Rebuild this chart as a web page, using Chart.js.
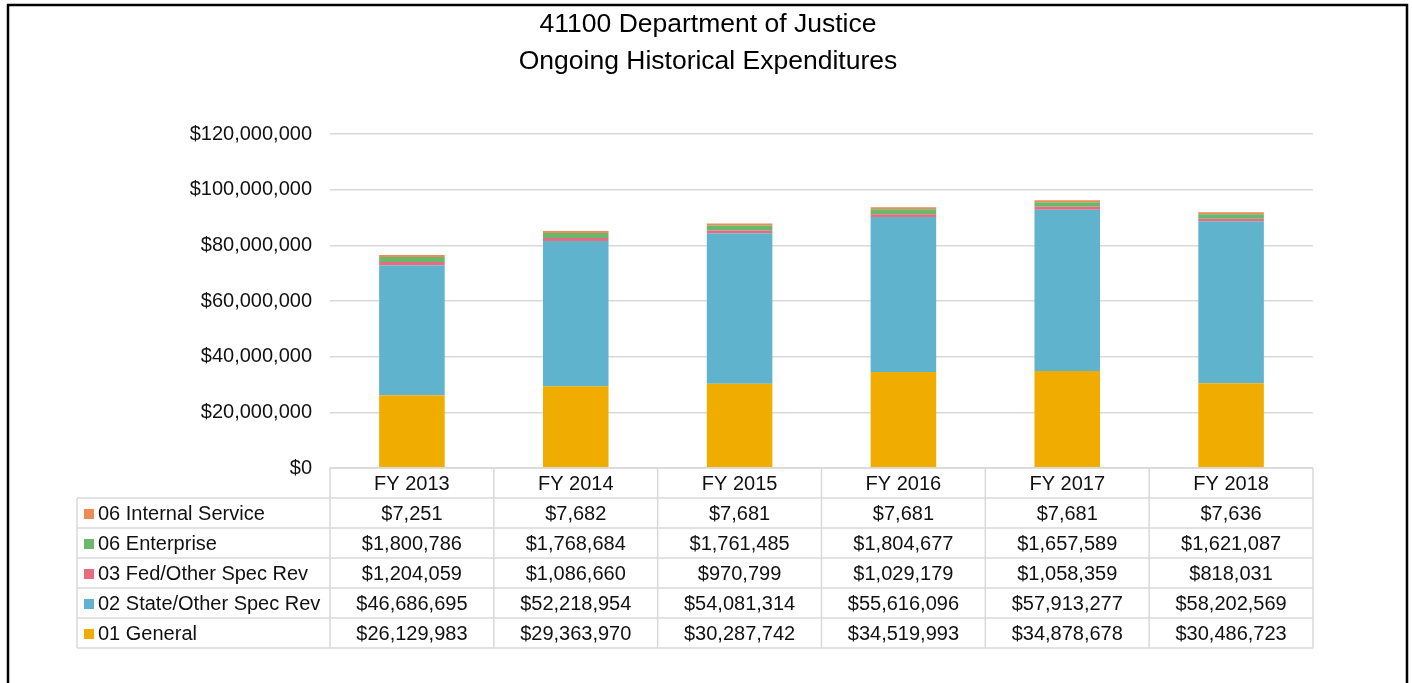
<!DOCTYPE html>
<html>
<head>
<meta charset="utf-8">
<script src="https://cdn.jsdelivr.net/npm/chart.js@4.4.1/dist/chart.umd.min.js"></script>
<style>
  html, body { margin: 0; padding: 0; background: #fff; }
  #wrap { width: 1412px; height: 683px; position: relative; }
</style>
</head>
<body>
<div id="wrap"><canvas id="c" width="1412" height="683"></canvas></div>
<script>
const categories = ['FY 2013', 'FY 2014', 'FY 2015', 'FY 2016', 'FY 2017', 'FY 2018'];
const general = [26129983, 29363970, 30287742, 34519993, 34878678, 30486723];
const stateOther = [46686695, 52218954, 54081314, 55616096, 57913277, 58202569];
const fedOther = [1204059, 1086660, 970799, 1029179, 1058359, 818031];
const enterprise = [1800786, 1768684, 1761485, 1804677, 1657589, 1621087];
const internalService = [7251, 7682, 7681, 7681, 7681, 7636];
const seriesNames = ['01 General', '02 State/Other Spec Rev', '03 Fed/Other Spec Rev', '06 Enterprise', '06 Internal Service'];
const seriesColors = ['#F0AD00', '#5FB3CC', '#E96B7E', '#6BB86D', '#EE8A55'];
const yMin = 0, yMax = 120000000, yStep = 20000000;
const titleLines = ['41100 Department of Justice', 'Ongoing Historical Expenditures'];

const FONT = "'Liberation Sans', Arial, sans-serif";
const fmt = v => '$' + Number(v).toLocaleString('en-US');

const allSeries = [general, stateOther, fedOther, enterprise, internalService];

const framePlugin = {
  id: 'frame',
  beforeDraw(chart) {
    const ctx = chart.ctx;
    ctx.save();
    ctx.strokeStyle = '#000';
    ctx.lineWidth = 2.5;
    ctx.beginPath();
    ctx.moveTo(8, 700);
    ctx.lineTo(8, 5);
    ctx.lineTo(1407, 5);
    ctx.lineTo(1407, 700);
    ctx.stroke();
    // title, centred on the frame
    ctx.fillStyle = '#000';
    ctx.font = '26.5px ' + FONT;
    ctx.textAlign = 'center';
    ctx.textBaseline = 'middle';
    titleLines.forEach((t, i) => ctx.fillText(t, 708, 25 + i * 37));
    ctx.restore();
  }
};

const tablePlugin = {
  id: 'dataTable',
  afterDraw(chart) {
    const ctx = chart.ctx;
    const x = chart.scales.x;
    const area = chart.chartArea;
    const n = categories.length;
    const colW = (x.getPixelForValue(1) - x.getPixelForValue(0));
    const left0 = x.getPixelForValue(0) - colW / 2;
    const right = x.getPixelForValue(n - 1) + colW / 2;
    const labelLeft = 77;
    const rowH = 30;
    const top = area.bottom;
    const nRows = allSeries.length;
    const bottom = top + rowH * (nRows + 1);

    ctx.save();
    ctx.strokeStyle = '#D9D9D9';
    ctx.lineWidth = 1.5;
    ctx.beginPath();
    ctx.moveTo(left0, top); ctx.lineTo(right, top);
    for (let k = 1; k <= nRows + 1; k++) {
      ctx.moveTo(labelLeft, top + rowH * k);
      ctx.lineTo(right, top + rowH * k);
    }
    for (let i = 0; i <= n; i++) {
      const xx = left0 + colW * i;
      ctx.moveTo(xx, top); ctx.lineTo(xx, bottom);
    }
    ctx.moveTo(labelLeft, top + rowH); ctx.lineTo(labelLeft, bottom);
    ctx.stroke();

    ctx.fillStyle = '#111';
    ctx.font = '20px ' + FONT;
    ctx.textBaseline = 'middle';
    ctx.textAlign = 'center';
    categories.forEach((c, i) => {
      ctx.fillText(c, x.getPixelForValue(i), top + rowH / 2 + 1);
    });
    for (let r = 0; r < nRows; r++) {
      const si = nRows - 1 - r;
      const cy = top + rowH * (r + 1) + rowH / 2 + 1;
      ctx.fillStyle = seriesColors[si];
      ctx.fillRect(84, cy - 5, 10, 10);
      ctx.fillStyle = '#111';
      ctx.textAlign = 'left';
      ctx.fillText(seriesNames[si], 98, cy);
      ctx.textAlign = 'center';
      allSeries[si].forEach((v, i) => {
        ctx.fillText(fmt(v), x.getPixelForValue(i), cy);
      });
    }
    ctx.restore();
  }
};

new Chart(document.getElementById('c'), {
  type: 'bar',
  data: {
    labels: categories,
    datasets: allSeries.map((d, i) => ({
      label: seriesNames[i],
      data: d,
      backgroundColor: seriesColors[i],
      borderWidth: 0,
      minBarLength: i === 4 ? 2 : 0,
      barPercentage: 0.4,
      categoryPercentage: 1.0
    }))
  },
  options: {
    responsive: false,
    animation: false,
    layout: { padding: { left: 0, right: 99, top: 134, bottom: 215 } },
    plugins: {
      legend: { display: false },
      tooltip: { enabled: false },
      title: { display: false }
    },
    scales: {
      x: {
        stacked: true,
        display: false
      },
      y: {
        stacked: true,
        min: yMin,
        max: yMax,
        border: { display: false },
        grid: { color: '#D9D9D9', lineWidth: 1.5, drawTicks: false },
        ticks: {
          stepSize: yStep,
          padding: 18,
          color: '#111',
          font: { family: FONT, size: 20 },
          callback: v => fmt(v)
        },
        afterFit(scale) { scale.width = 330; }
      }
    }
  },
  plugins: [framePlugin, tablePlugin]
});
</script>
</body>
</html>
